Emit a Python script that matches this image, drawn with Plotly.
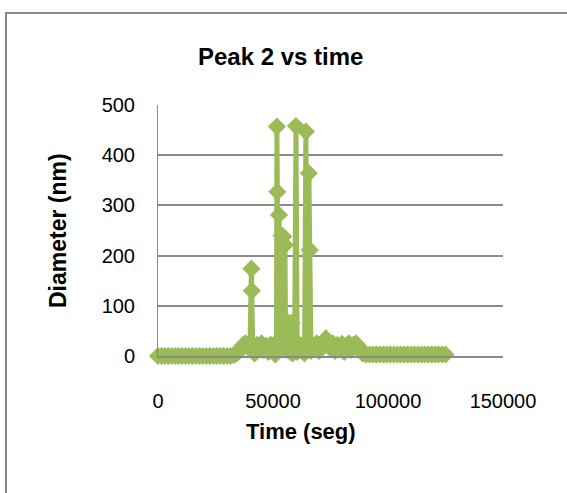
import plotly.graph_objects as go

# Time (s) and Peak 2 diameter (nm)
time_s = [
    0, 1500, 3000, 4500, 6000, 7500, 9000, 10500, 12000, 13500, 15000, 16500,
    18000, 19500, 21000, 22500, 24000, 25500, 27000, 28500, 30000, 31500,
    33000, 34000, 35000, 36000, 37000, 38000, 39000, 40000, 40600, 40800, 41200,
    42000, 43000, 44000, 45000, 46000, 47000, 48000, 49000, 50000, 51000,
    51500, 51700, 51900, 52100, 52600, 53300, 53800, 54200, 54500, 54900, 55200,
    55500, 55800, 56300, 57000, 57600, 58000, 58600, 59400, 60000, 60500, 61000,
    62000, 63000, 63700, 64300, 64900, 65600, 66000, 66500, 67000, 68000, 69000,
    70000, 71000, 72000, 73000, 74000, 75000, 76000, 77000, 78000, 79000, 80000,
    81000, 82000, 83000, 84000, 85000, 86000, 87000, 88000, 89000, 90500, 92000,
    93500, 95000, 96500, 98000, 99500, 101000, 102500, 104000, 105500, 107000,
    108500, 110000, 111500, 113000, 114500, 116000, 117500, 119000, 120500,
    122000, 123500, 125000,
]
diameter_nm = [
    0, 0, 0, 0, 0, 0, 0, 0, 0, 0, 0, 0,
    0, 0, 0, 0, 0, 0, 0, 0, 0, 0,
    2, 5, 8, 15, 22, 25, 18, 26, 174, 130, 15,
    5, 22, 18, 25, 12, 20, 8, 22, 15, 3,
    10, 457, 327, 30, 281, 20, 240, 15, 238, 20, 221,
    25, 70, 12, 30, 8, 66, 5, 20, 458, 8, 25,
    12, 18, 5, 447, 30, 364, 211, 10, 22, 15, 25,
    10, 20, 28, 35, 22, 15, 25, 10, 22, 18, 24,
    8, 20, 25, 12, 22, 25, 20, 10, 5, 3, 3,
    3, 3, 3, 3, 3, 3, 3, 3, 3, 3,
    3, 3, 3, 3, 3, 3, 3, 3, 3,
    3, 3, 3,
]

x_ticks = [0, 50000, 100000, 150000]
y_ticks = [0, 100, 200, 300, 400, 500]

GREEN = "#9BBB59"
GRID = "#8a8a8a"
FONT = "Liberation Sans"

fig = go.Figure()
fig.add_trace(go.Scatter(
    x=time_s, y=diameter_nm, mode="lines+markers",
    line=dict(color=GREEN, width=5),
    marker=dict(symbol="diamond", size=14, color=GREEN),
    cliponaxis=False, showlegend=False,
))

L, R, T, B = 158, 64, 105, 137
W, H = 567, 493
pw, ph = W - L - R, H - T - B

def px_x(p):
    return (p - L) / pw

def px_y(p):
    return (H - B - p) / ph

fig.update_layout(
    width=W, height=H,
    margin=dict(l=L, r=R, t=T, b=B),
    paper_bgcolor="white", plot_bgcolor="white",
    font=dict(family=FONT, color="black"),
    xaxis=dict(
        range=[0, 150000], tickvals=x_ticks, ticktext=[str(v) for v in x_ticks],
        showgrid=False, zeroline=False, showline=True, linecolor=GRID, linewidth=2,
        tickfont=dict(size=20, family=FONT), ticks="", ticklabelstandoff=26,
    ),
    yaxis=dict(
        range=[0, 500], tickvals=y_ticks, showgrid=True, gridcolor=GRID, gridwidth=2,
        zeroline=False, showline=True, linecolor=GRID, linewidth=1,
        tickfont=dict(size=20, family=FONT), ticks="", ticklabelstandoff=18,
    ),
    shapes=[dict(
        type="rect", xref="paper", yref="paper",
        x0=px_x(6), x1=px_x(580), y0=px_y(505), y1=px_y(13),
        line=dict(color="#878787", width=2), fillcolor="rgba(0,0,0,0)", layer="below",
    )],
    annotations=[
        dict(text="<b>Peak 2 vs time</b>", xref="paper", yref="paper",
             x=px_x(280), y=px_y(57), showarrow=False, xanchor="center", yanchor="middle",
             font=dict(size=24, family=FONT, color="black")),
        dict(text="<b>Time (seg)</b>", xref="paper", yref="paper",
             x=px_x(301), y=px_y(431), showarrow=False, xanchor="center", yanchor="middle",
             font=dict(size=22, family=FONT, color="black")),
        dict(text="<b>Diameter (nm)</b>", xref="paper", yref="paper",
             x=px_x(58), y=px_y(231), showarrow=False, xanchor="center", yanchor="middle",
             textangle=-90, font=dict(size=23, family=FONT, color="black")),
    ],
)

fig.write_html("out.html")
